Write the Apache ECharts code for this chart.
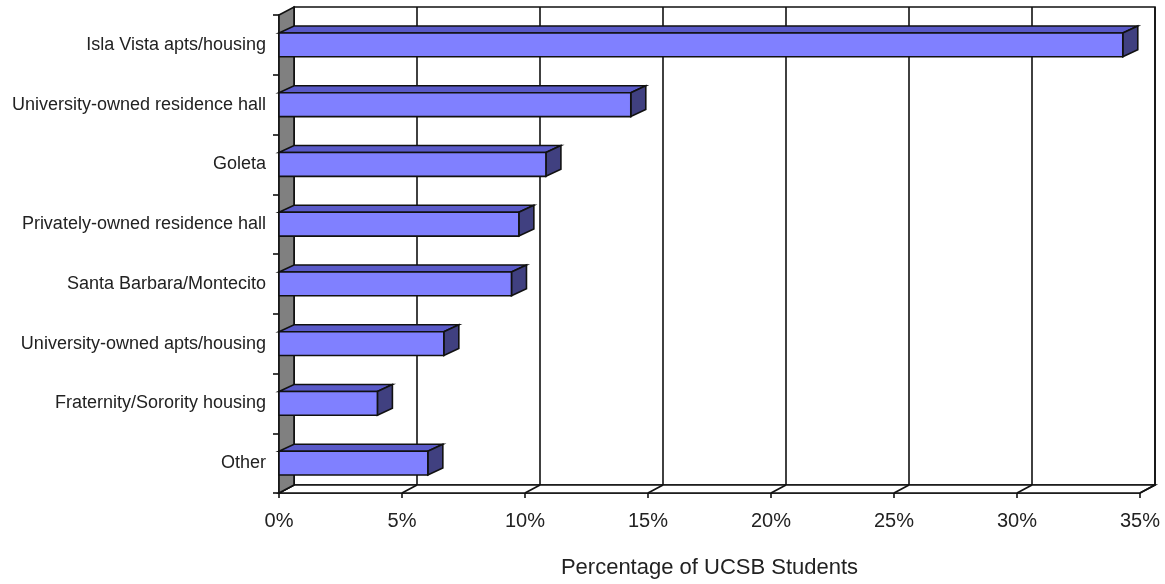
<!DOCTYPE html>
<html>
<head>
<meta charset="utf-8">
<script src="https://cdn.jsdelivr.net/npm/echarts@6/dist/echarts.min.js"></script>
<style>
html,body{margin:0;padding:0;background:#fff;}
#chart{width:1165px;height:584px;}
</style>
</head>
<body>
<div id="chart"></div>
<script>
const categories = [
  'Isla Vista apts/housing',
  'University-owned residence hall',
  'Goleta',
  'Privately-owned residence hall',
  'Santa Barbara/Montecito',
  'University-owned apts/housing',
  'Fraternity/Sorority housing',
  'Other'
];
const percentages = [34.3, 14.3, 10.85, 9.75, 9.45, 6.7, 4.0, 6.05];
const tickValues = [0, 5, 10, 15, 20, 25, 30, 35];
const axisTitle = 'Percentage of UCSB Students';

const DX = 15, DY = -8;      // wall depth
const BDX = 15, BDY = -7;    // bar depth
const FONT = 'Liberation Sans, Arial, sans-serif';
const LW = 1.6;

const chart = echarts.init(document.getElementById('chart'));

function renderWalls(params, api) {
  const cs = params.coordSys;
  const x0 = cs.x, x1 = cs.x + cs.width, yt = cs.y, yb = cs.y + cs.height;
  const children = [];
  children.push({type:'rect', shape:{x:x0+DX, y:yt+DY, width:x1-x0, height:yb-yt},
    style:{fill:'#ffffff', stroke:'#111', lineWidth:LW}});
  tickValues.forEach(v => {
    const x = api.coord([v, 0])[0];
    children.push({type:'line', shape:{x1:x+DX, y1:yt+DY, x2:x+DX, y2:yb+DY},
      style:{stroke:'#111', lineWidth:LW}});
  });
  children.push({type:'polygon', shape:{points:[[x0,yb],[x1,yb],[x1+DX,yb+DY],[x0+DX,yb+DY]]},
    style:{fill:'#ffffff', stroke:'#111', lineWidth:LW}});
  tickValues.forEach(v => {
    const x = api.coord([v, 0])[0];
    children.push({type:'line', shape:{x1:x, y1:yb, x2:x+DX, y2:yb+DY},
      style:{stroke:'#111', lineWidth:LW}});
  });
  children.push({type:'polygon', shape:{points:[[x0,yt],[x0+DX,yt+DY],[x0+DX,yb+DY],[x0,yb]]},
    style:{fill:'#808080', stroke:'#111', lineWidth:LW}});
  return {type:'group', children};
}

function renderBar(params, api) {
  const val = api.value(0), idx = api.value(1);
  const p0 = api.coord([0, idx]);
  const p1 = api.coord([val, idx]);
  const band = api.size([0, 1])[1];
  const h = band * 0.4;
  const top = p1[1] - h / 2, bot = p1[1] + h / 2;
  const xl = p0[0], xr = p1[0];
  return {type:'group', children:[
    {type:'polygon', shape:{points:[[xl,top],[xr,top],[xr+BDX,top+BDY],[xl+BDX,top+BDY]]},
      style:{fill:'#5a5ac8', stroke:'#111', lineWidth:LW}},
    {type:'polygon', shape:{points:[[xr,top],[xr+BDX,top+BDY],[xr+BDX,bot+BDY],[xr,bot]]},
      style:{fill:'#404080', stroke:'#111', lineWidth:LW}},
    {type:'rect', shape:{x:xl, y:top, width:xr-xl, height:h},
      style:{fill:'#8080ff', stroke:'#111', lineWidth:LW}}
  ]};
}

chart.setOption({
  animation:false,
  backgroundColor:'#ffffff',
  grid:{left:279, right:25, top:15, bottom:91, containLabel:false},
  xAxis:{
    type:'value', min:0, max:35, interval:5,
    name:axisTitle, nameLocation:'middle', nameGap:64,
    nameTextStyle:{color:'#222', fontSize:22, fontFamily:FONT},
    axisLine:{show:true, lineStyle:{color:'#111', width:LW}},
    axisTick:{show:true, length:5, lineStyle:{color:'#111', width:LW}},
    axisLabel:{formatter:'{value}%', color:'#222', fontSize:20, fontFamily:FONT, margin:18},
    splitLine:{show:false}
  },
  yAxis:{
    type:'category', data:categories, inverse:true,
    axisLine:{show:true, lineStyle:{color:'#111', width:LW}},
    axisTick:{show:true, length:6, lineStyle:{color:'#111', width:LW}},
    axisLabel:{color:'#222', fontSize:18, fontFamily:FONT, margin:13},
    splitLine:{show:false}
  },
  series:[
    {type:'custom', renderItem:renderWalls, data:[[0,0]], z:1, silent:true,
      encode:{x:0, y:1}},
    {type:'custom', renderItem:renderBar, z:2,
      data:percentages.map((v,i)=>[v,i]), encode:{x:0, y:1}}
  ]
});
</script>
</body>
</html>
